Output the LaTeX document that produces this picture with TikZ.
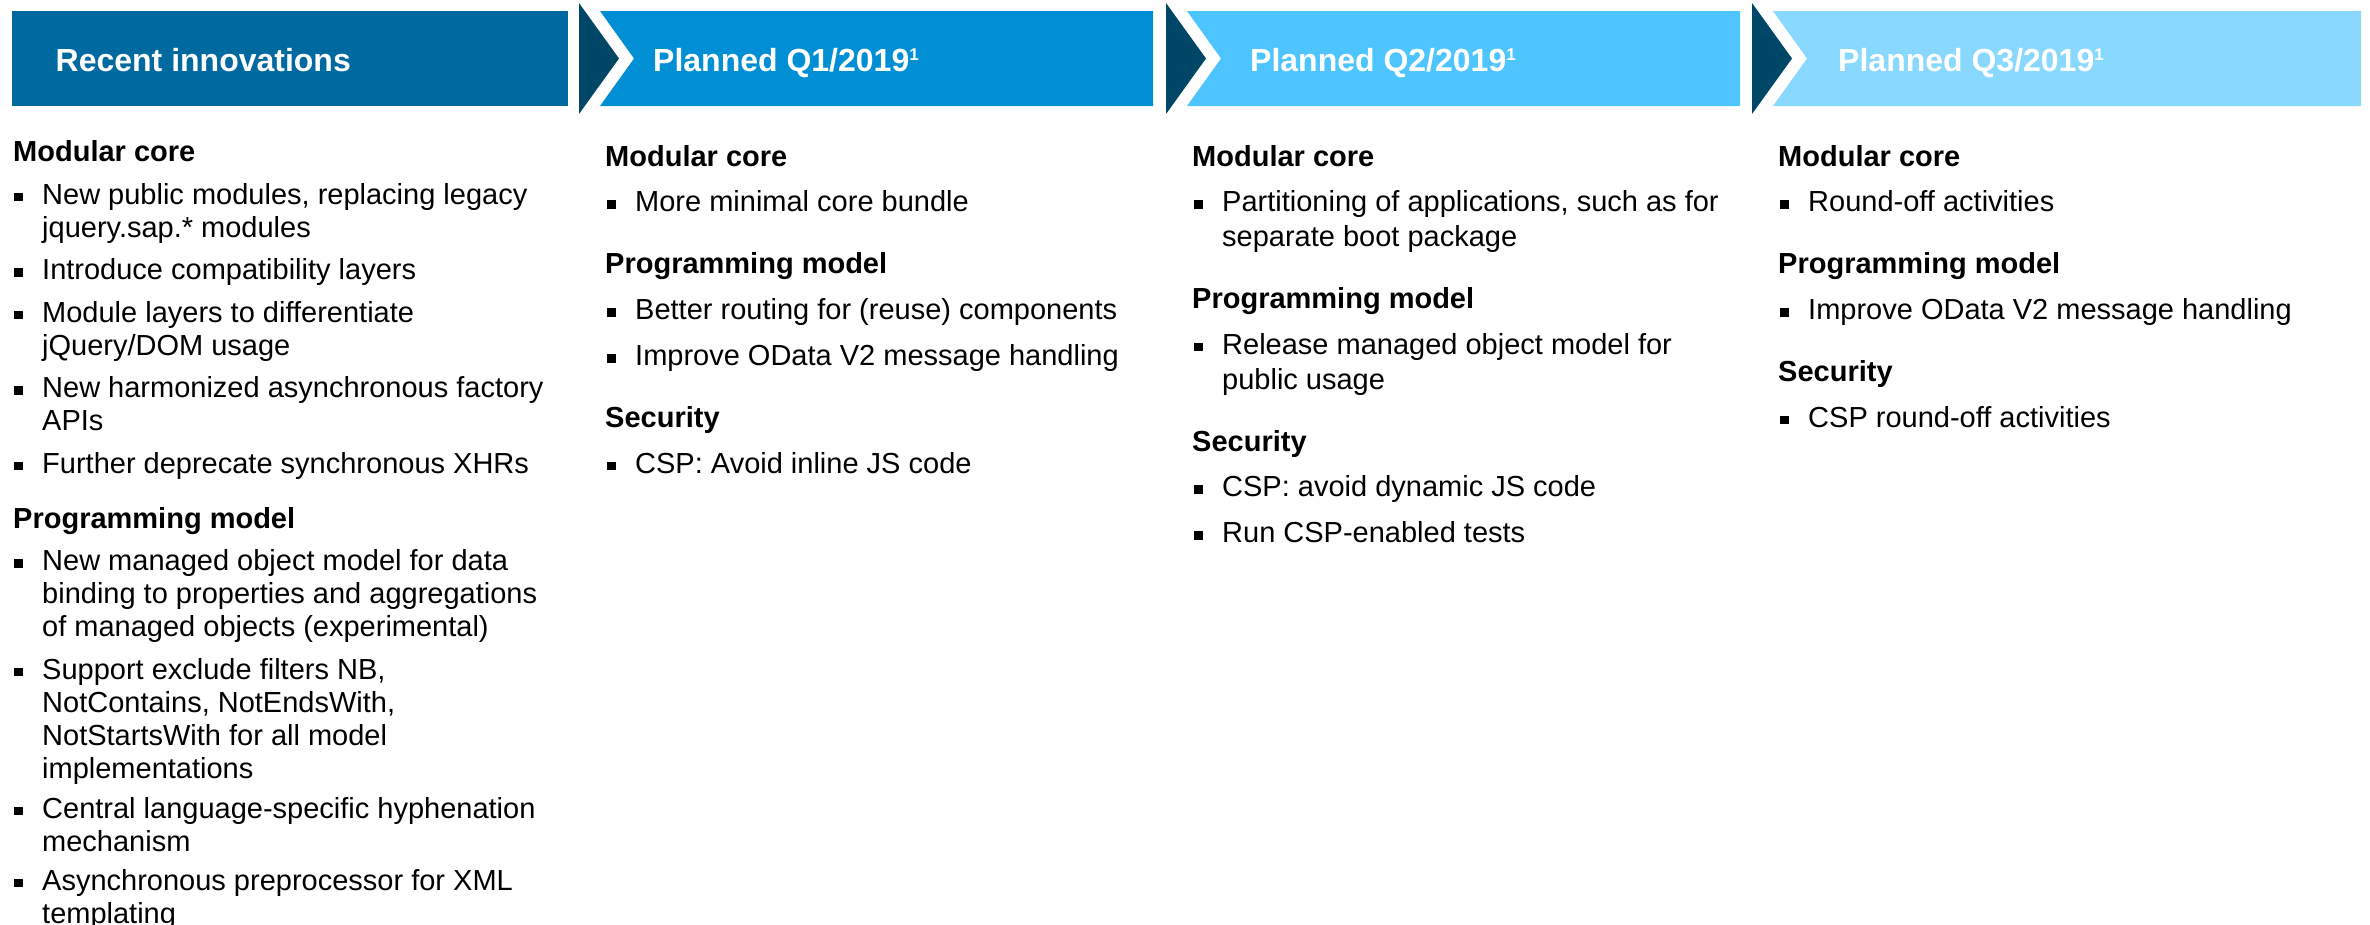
\documentclass[tikz,border=0pt]{standalone}
\usepackage{fontspec}
\setmainfont{Liberation Sans}
\usepackage{tikz}
\usetikzlibrary{positioning}
\definecolor{recentblue}{HTML}{006AA0}
\definecolor{qoneblue}{HTML}{008FD5}
\definecolor{qtwoblue}{HTML}{4EC5FF}
\definecolor{qthreeblue}{HTML}{89D8FF}
\definecolor{chevron}{HTML}{004667}
\newcommand{\bul}{\llap{\rule[3pt]{8.5pt}{8.5pt}\hspace{19.5pt}}}
\newcommand{\fn}{\raisebox{11pt}{\fontsize{17}{17}\selectfont 1}}
\newcommand{\lines}[1]{\begin{tabular}[t]{@{}l@{}}#1\end{tabular}}

\begin{document}
\begin{tikzpicture}[x=1pt,y=-1pt]
\tikzstyle{title}=[anchor=base west, inner sep=0pt, text=white, font=\fontsize{32}{38}\selectfont\bfseries]
\tikzstyle{topic}=[anchor=base west, inner sep=0pt, font=\fontsize{29}{33}\selectfont\bfseries]
\tikzstyle{item}=[anchor=base west, inner sep=0pt, font=\fontsize{29}{35}\selectfont]
\tikzstyle{tightitem}=[item, font=\fontsize{29}{33}\selectfont]

\path[use as bounding box, clip] (0,0) rectangle (2370,924);

% header bar
\path[fill=recentblue] (11.5,11) rectangle (567.5,106);
\path[fill=chevron] (579,3) -- (619,58.5) -- (579,114) -- cycle;
\path[fill=qoneblue] (600,11) -- (1153,11) -- (1153,106) -- (600,106) -- (634,58.5) -- cycle;
\path[fill=chevron] (1166,3) -- (1206,58.5) -- (1166,114) -- cycle;
\path[fill=qtwoblue] (1187,11) -- (1740,11) -- (1740,106) -- (1187,106) -- (1221,58.5) -- cycle;
\path[fill=chevron] (1752,3) -- (1792,58.5) -- (1752,114) -- cycle;
\path[fill=qthreeblue] (1773,11) -- (2361,11) -- (2361,106) -- (1773,106) -- (1807,58.5) -- cycle;

\node[title](recent) at (55.5,71){Recent innovations};
\node[title](qone) at (653,71){Planned Q1/2019\fn};
\node[title](qtwo) at (1250,71){Planned Q2/2019\fn};
\node[title](qthree) at (1838,71){Planned Q3/2019\fn};

% recent innovations
\node[topic](rcore) at (13,161.5){Modular core};
\node[tightitem](rcore1) at (42,204){\lines{\bul New public modules, replacing legacy\\jquery.sap.* modules}};
\node[tightitem](rcore2) at (42,279.5){\lines{\bul Introduce compatibility layers}};
\node[tightitem](rcore3) at (42,322){\lines{\bul Module layers to differentiate\\jQuery/DOM usage}};
\node[tightitem](rcore4) at (42,397.5){\lines{\bul New harmonized asynchronous factory\\APIs}};
\node[tightitem](rcore5) at (42,473){\lines{\bul Further deprecate synchronous XHRs}};
\node[topic](rprog) at (13,528){Programming model};
\node[tightitem](rprog1) at (42,570.5){\lines{\bul New managed object model for data\\binding to properties and aggregations\\of managed objects (experimental)}};
\node[tightitem](rprog2) at (42,679){\lines{\bul Support exclude filters NB,\\NotContains, NotEndsWith,\\NotStartsWith for all model\\implementations}};
\node[tightitem](rprog3) at (42,818){\lines{\bul Central language-specific hyphenation\\mechanism}};
\node[tightitem](rprog4) at (42,890){\lines{\bul Asynchronous preprocessor for XML\\templating}};

% Q1
\node[topic](acore) at (605,166){Modular core};
\node[item](acore1) at (635,211.5){\lines{\bul More minimal core bundle}};
\node[topic](aprog) at (605,273.5){Programming model};
\node[item](aprog1) at (635,319.5){\lines{\bul Better routing for (reuse) components}};
\node[item](aprog2) at (635,365.5){\lines{\bul Improve OData V2 message handling}};
\node[topic](asec) at (605,427.5){Security};
\node[item](asec1) at (635,473){\lines{\bul CSP: Avoid inline JS code}};

% Q2
\node[topic](bcore) at (1192,166){Modular core};
\node[item](bcore1) at (1222,211.5){\lines{\bul Partitioning of applications, such as for\\separate boot package}};
\node[topic](bprog) at (1192,308.5){Programming model};
\node[item](bprog1) at (1222,354){\lines{\bul Release managed object model for\\public usage}};
\node[topic](bsec) at (1192,451){Security};
\node[item](bsec1) at (1222,496.5){\lines{\bul CSP: avoid dynamic JS code}};
\node[item](bsec2) at (1222,542.5){\lines{\bul Run CSP-enabled tests}};

% Q3
\node[topic](ccore) at (1778,166){Modular core};
\node[item](ccore1) at (1808,211.5){\lines{\bul Round-off activities}};
\node[topic](cprog) at (1778,273.5){Programming model};
\node[item](cprog1) at (1808,319.5){\lines{\bul Improve OData V2 message handling}};
\node[topic](csec) at (1778,381.5){Security};
\node[item](csec1) at (1808,427){\lines{\bul CSP round-off activities}};

\end{tikzpicture}
\end{document}
